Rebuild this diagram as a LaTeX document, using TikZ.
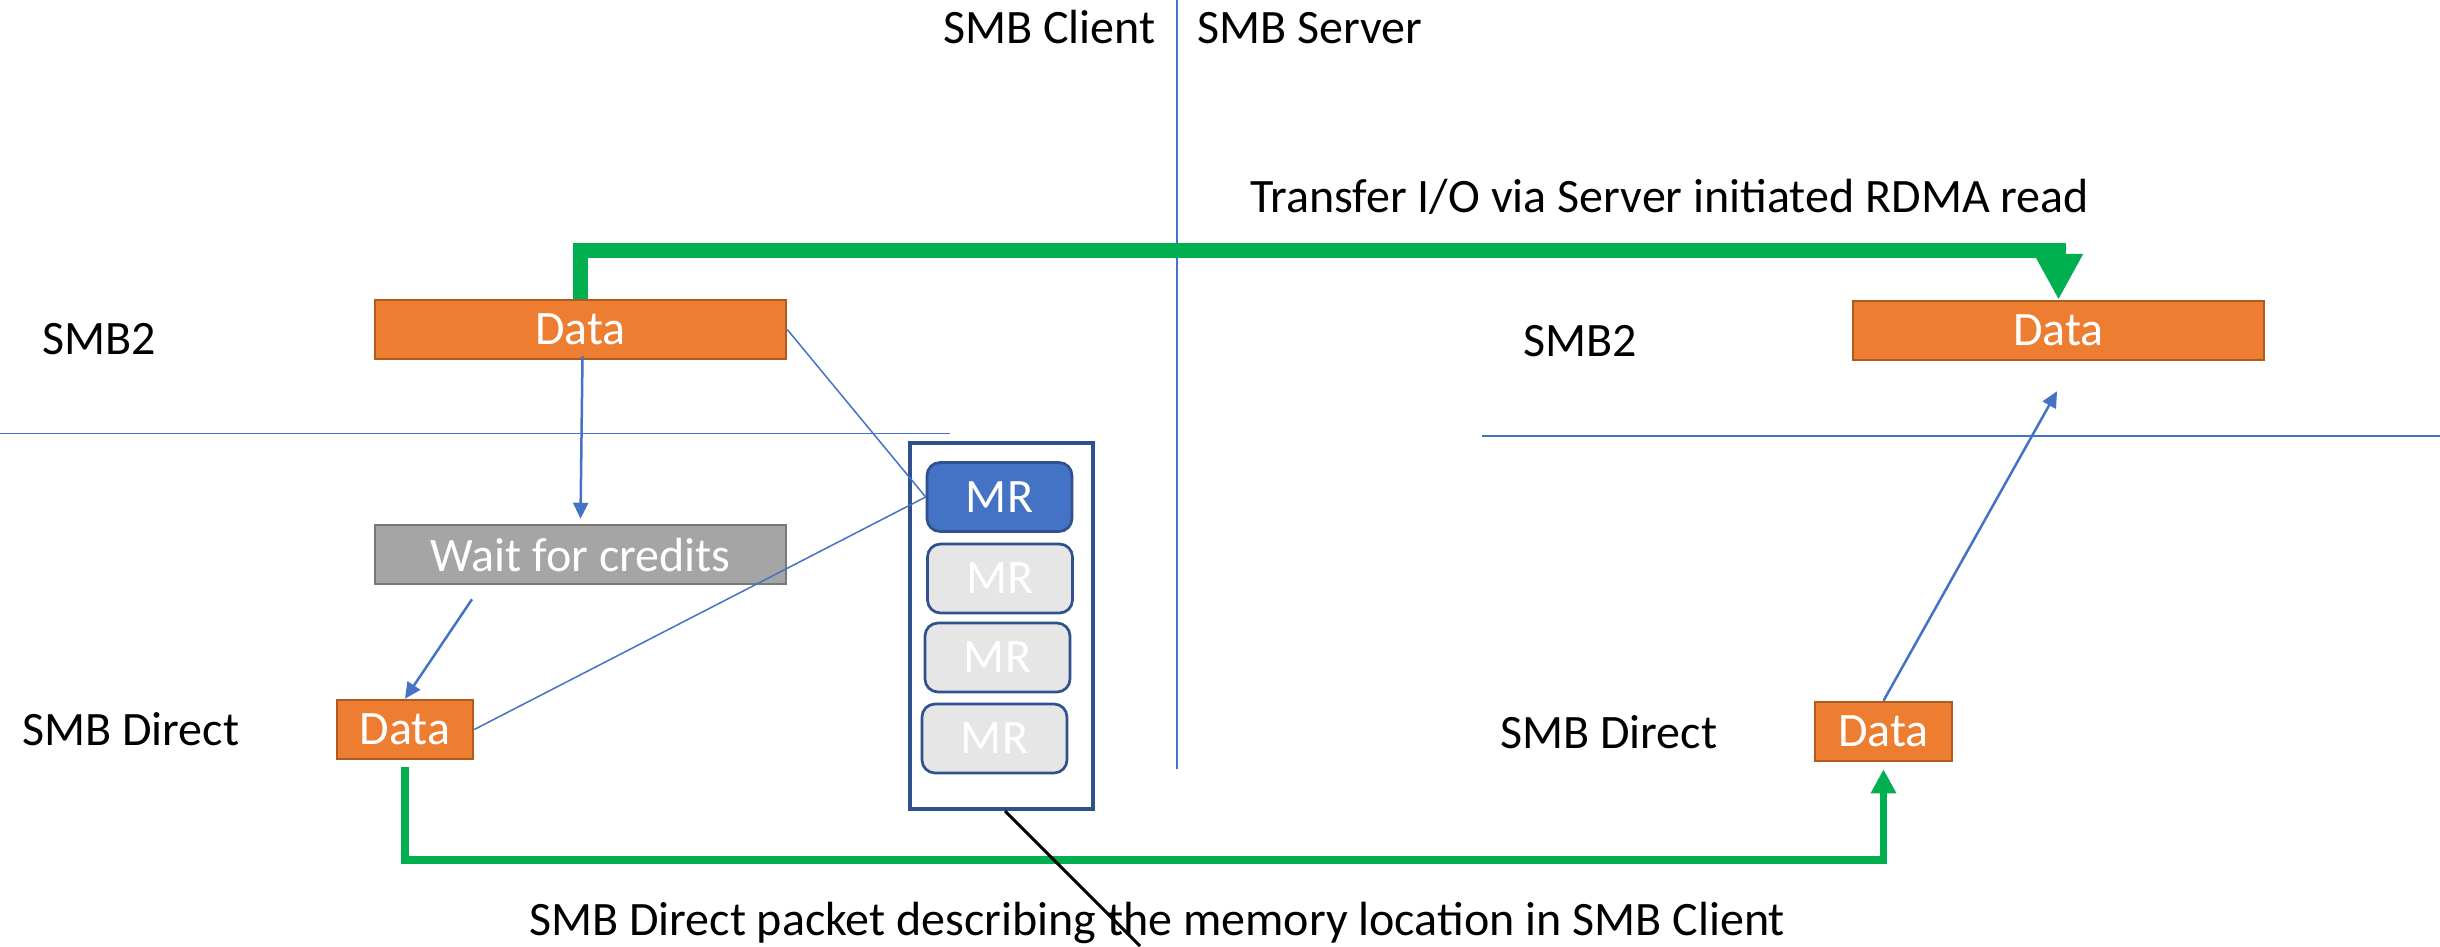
\documentclass[tikz,border=0pt]{standalone}
\usepackage{fontspec}
\setmainfont{Carlito}
\usetikzlibrary{arrows.meta,calc}

\definecolor{dataFill}{HTML}{ED7D31}
\definecolor{dataLine}{HTML}{AE5A21}
\definecolor{waitFill}{HTML}{A5A5A5}
\definecolor{waitLine}{HTML}{787878}
\definecolor{mrBlue}{HTML}{4472C4}
\definecolor{mrLine}{HTML}{2F528F}
\definecolor{mrGray}{HTML}{E7E6E6}
\definecolor{flowGreen}{HTML}{00B050}

\newcommand{\labelfont}{\fontsize{48}{58}\selectfont}

\tikzset{
  lbl/.style={font=\labelfont, text=black, inner sep=0pt, anchor=base west},
  databox/.style={draw=dataLine, fill=dataFill, line width=2.5pt, inner sep=0pt,
    text=white, font=\labelfont, minimum height=59pt},
  waitbox/.style={draw=waitLine, fill=waitFill, line width=2.5pt, inner sep=0pt,
    text=white, font=\labelfont, minimum height=59pt, minimum width=411pt},
  mrbox/.style={draw=mrLine, line width=2.7pt, rounded corners=13pt, inner sep=0pt,
    text=white, font=\labelfont, minimum width=145pt, minimum height=69pt},
  holder/.style={draw=mrLine, line width=4pt, fill=white, inner sep=0pt,
    minimum width=183pt, minimum height=366pt},
  divider/.style={draw=mrBlue, line width=1.5pt},
  thinlink/.style={draw=mrBlue, line width=1.5pt},
  bluearrow/.style={draw=mrBlue, line width=2.5pt, -{Triangle[width=15pt,length=16pt]}},
  bigflow/.style={draw=flowGreen, line width=15pt, miter limit=10,
    -{Triangle[width=46pt,length=46pt]}},
  smallflow/.style={draw=flowGreen, line width=7.7pt, miter limit=10,
    -{Triangle[width=24pt,length=24pt]}}
}

\begin{document}
\begin{tikzpicture}[x=1pt,y=-1pt]
\fill[white] (0,0) rectangle (2440,946);
\useasboundingbox (0,0) rectangle (2440,946);

% client / server split and layer separators
\coordinate (vtop) at (1177,0);
\coordinate (vbot) at (1177,769);
\draw[divider] (vtop) -- (vbot);
\coordinate (hl1) at (0,433.5);
\coordinate (hl2) at (950,433.5);
\coordinate (hr1) at (1482,436);
\coordinate (hr2) at (2440,436);
\draw[divider] (hl1) -- (hl2);
\draw[divider] (hr1) -- (hr2);

% headings and layer labels
\node[lbl] (client) at (943,43) {SMB Client};
\node[lbl] (server) at (1197,43) {SMB Server};
\node[lbl] (title) at (1250,212) {Transfer I/O via Server initiated RDMA read};
\node[lbl] (smbL) at (42,354) {SMB2};
\node[lbl] (smbR) at (1523,356) {SMB2};
\node[lbl] (sdL) at (22,745) {SMB Direct};
\node[lbl] (sdR) at (1500,748) {SMB Direct};
\node[lbl] (note) at (529,935) {SMB Direct packet describing the memory location in SMB Client};

% client side boxes
\node[databox, minimum width=411pt] (d1) at (580.5,329.5) {Data};
\node[waitbox] (w) at (580.5,554.5) {Wait for credits};
\node[databox, minimum width=136pt] (d2) at (405,729.5) {Data};

% memory registrations
\node[holder] (box) at (1001.5,626) {};
\node[mrbox, fill=mrBlue] (mr1) at (999.5,497) {MR};
\node[mrbox, fill=mrGray] (mr2) at (1000,578.5) {MR};
\node[mrbox, fill=mrGray] (mr3) at (997.5,657.5) {MR};
\node[mrbox, fill=mrGray] (mr4) at (994.5,738.5) {MR};

% server side boxes
\node[databox, minimum width=411pt] (d3) at (2058.5,330.5) {Data};
\node[databox, minimum width=137pt] (d4) at (1883.5,731.5) {Data};

% client side flow
\draw[bluearrow] ($(d1.south)+(2,-4)$) -- ($(w.north)+(0,-5)$);
\draw[bluearrow] ($(w.south)+(-108.5,14)$) -- (d2.north);
\draw[thinlink] (d1.east) -- (mr1.west);
\draw[thinlink] (d2.east) -- (mr1.west);

% server side flow
\draw[bluearrow] (d4.north) -- ($(d3.south)+(-1.5,30)$);

% transfers
\draw[bigflow] (d1.north) -- ++(0,-48) -| (d3.north);
\draw[smallflow] ($(d2.south)+(0,7)$) -- ++(0,93) -| ($(d4.south)+(0,7)$);

% pointer from the packet note to the registrations
\coordinate (noteEnd) at (1140,946);
\draw[black, line width=3pt] ($(box.south)+(3.5,0)$) -- (noteEnd);
\end{tikzpicture}
\end{document}
